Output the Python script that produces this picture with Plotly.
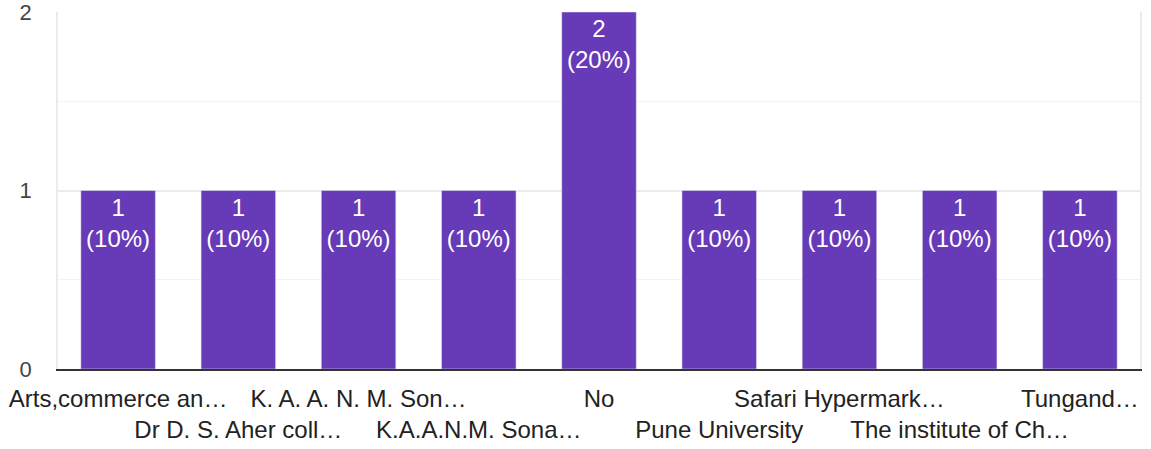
import plotly.graph_objects as go

categories = [
    "Arts,commerce an…",
    "Dr D. S. Aher coll…",
    "K. A. A. N. M. Son…",
    "K.A.A.N.M. Sona…",
    "No",
    "Pune University",
    "Safari Hypermark…",
    "The institute of Ch…",
    "Tungand…",
]
counts = [1, 1, 1, 1, 2, 1, 1, 1, 1]
y_ticks = [0, 1, 2]

total = sum(counts)
positions = list(range(len(categories)))
labels = [f"{v}<br>({v / total:.0%})" for v in counts]

PURPLE = "#673ab7"
FONT = "Liberation Sans, Arial, sans-serif"

fig = go.Figure()
fig.add_trace(go.Bar(
    x=positions, y=counts, marker_color=PURPLE, width=0.62,
    text=labels, textposition="inside", insidetextanchor="end",
    textangle=0, textfont=dict(color="white", size=24, family=FONT),
    hoverinfo="skip",
))
# invisible trace to activate the second-row label axis
fig.add_trace(go.Scatter(x=positions, y=counts, xaxis="x2", mode="none",
                         showlegend=False, hoverinfo="skip"))

xr = [-0.5, len(categories) - 0.5]
fig.update_layout(
    width=1151, height=449,
    margin=dict(l=58, r=11, t=12, b=80, autoexpand=False),
    plot_bgcolor="white", paper_bgcolor="white",
    showlegend=False,
    font=dict(family=FONT, size=22, color="#222"),
    xaxis=dict(
        range=xr, tickmode="array", automargin=False,
        tickvals=positions[0::2], ticktext=categories[0::2],
        showgrid=False, zeroline=False,
        showline=True, linecolor="#333", linewidth=2,
        ticks="", ticklabelstandoff=7, ticklabeloverflow="allow",
        tickfont=dict(size=24, color="#222", family=FONT),
    ),
    xaxis2=dict(
        range=xr, overlaying="x", side="bottom", anchor="y", automargin=False,
        tickmode="array",
        tickvals=positions[1::2], ticktext=categories[1::2],
        showgrid=False, zeroline=False, showline=False,
        ticks="", ticklabelstandoff=44, ticklabeloverflow="allow",
        tickfont=dict(size=24, color="#222", family=FONT),
    ),
    yaxis=dict(
        range=[0, 2], tickmode="array", tickvals=y_ticks, automargin=False,
        showgrid=True, gridcolor="#ebebeb", gridwidth=1.5,
        minor=dict(dtick=0.5, showgrid=True, gridcolor="#f3f3f3", gridwidth=1),
        zeroline=False,
        showline=True, linecolor="#ebebeb", linewidth=1.5, mirror=True,
        ticks="", ticklabelstandoff=20, ticklabeloverflow="allow",
        tickfont=dict(size=22, color="#444", family=FONT),
    ),
)

fig.write_html("out.html", config={"displayModeBar": False},
               post_script="document.body.style.margin='0';")
